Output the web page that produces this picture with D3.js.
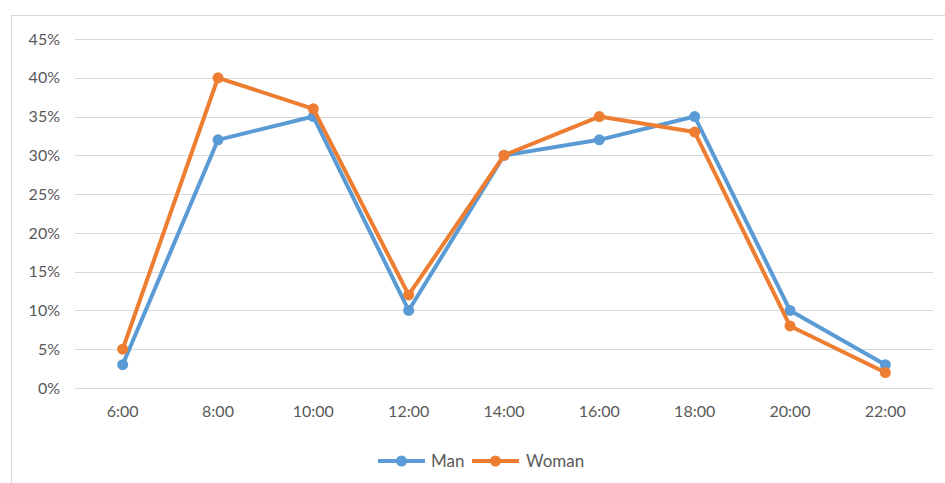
<!DOCTYPE html>
<html>
<head>
<meta charset="utf-8">
<script src="https://cdn.jsdelivr.net/npm/d3@7"></script>
<style>
  html, body { margin: 0; padding: 0; background: #fff; }
  svg text { font-family: Lato, "Open Sans", sans-serif; fill: #595959; }
</style>
</head>
<body>
<svg id="chart" width="945" height="483"></svg>
<script>
// Share of people active at each time of day
const hours = ["6:00", "8:00", "10:00", "12:00", "14:00", "16:00", "18:00", "20:00", "22:00"];
const man   = [3, 32, 35, 10, 30, 32, 35, 10, 3];
const woman = [5, 40, 36, 12, 30, 35, 33, 8, 2];
const yTicks = [0, 5, 10, 15, 20, 25, 30, 35, 40, 45];

const seriesList = [
  { name: "Man",   values: man,   color: "#5B9BD5" },
  { name: "Woman", values: woman, color: "#ED7D31" }
];

const svg = d3.select("#chart");

// chart frame
svg.append("rect")
  .attr("x", 11.5).attr("y", 15.5)
  .attr("width", 960).attr("height", 500)
  .attr("fill", "none").attr("stroke", "#d9d9d9").attr("stroke-width", 1);

const plot = { left: 75, right: 933, top: 39, bottom: 388 };

const x = d3.scaleBand().domain(hours).range([plot.left, plot.right]);
const y = d3.scaleLinear().domain([0, 45]).range([plot.bottom, plot.top]);

// horizontal gridlines
svg.append("g")
  .selectAll("line")
  .data(yTicks)
  .join("line")
  .attr("x1", plot.left).attr("x2", plot.right)
  .attr("y1", d => Math.round(y(d)) + 0.5).attr("y2", d => Math.round(y(d)) + 0.5)
  .attr("stroke", "#d9d9d9").attr("stroke-width", 1);

// y axis labels
const yAxis = d3.axisLeft(y).tickValues(yTicks).tickFormat(d => d + "%").tickSize(0).tickPadding(15);
const gy = svg.append("g").attr("transform", `translate(${plot.left},0)`).call(yAxis);
gy.select(".domain").remove();
gy.selectAll("text").attr("font-size", 16).style("font-family", null);

// x axis labels
const xAxis = d3.axisBottom(x).tickSize(0).tickPadding(18);
const gx = svg.append("g").attr("transform", `translate(0,${plot.bottom})`).call(xAxis);
gx.select(".domain").remove();
gx.selectAll("text").attr("font-size", 16).style("font-family", null);

const cx = d => x(d) + x.bandwidth() / 2;
const line = d3.line().x((d, i) => cx(hours[i])).y(d => y(d));

const g = svg.append("g");
seriesList.forEach(s => {
  g.append("path")
    .datum(s.values)
    .attr("d", line)
    .attr("fill", "none")
    .attr("stroke", s.color)
    .attr("stroke-width", 4)
    .attr("stroke-linejoin", "round")
    .attr("stroke-linecap", "round");
  g.selectAll(null)
    .data(s.values)
    .join("circle")
    .attr("cx", (d, i) => cx(hours[i]))
    .attr("cy", d => y(d))
    .attr("r", 5.5)
    .attr("fill", s.color);
});

// legend
const legendY = 461;
const legendItems = [
  { s: seriesList[0], x0: 378, tx: 431 },
  { s: seriesList[1], x0: 472, tx: 526 }
];
const lg = svg.append("g");
legendItems.forEach(it => {
  lg.append("line")
    .attr("x1", it.x0).attr("x2", it.x0 + 47)
    .attr("y1", legendY).attr("y2", legendY)
    .attr("stroke", it.s.color).attr("stroke-width", 4);
  lg.append("circle")
    .attr("cx", it.x0 + 23.5).attr("cy", legendY).attr("r", 5.5)
    .attr("fill", it.s.color);
  lg.append("text")
    .attr("x", it.tx).attr("y", legendY)
    .attr("dy", "0.35em")
    .attr("font-size", 17)
    .text(it.s.name);
});
</script>
</body>
</html>
